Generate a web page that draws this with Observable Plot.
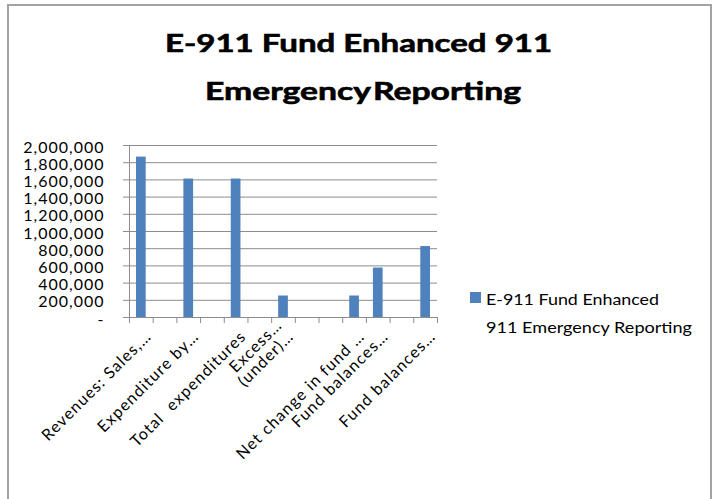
<!DOCTYPE html>
<html><head><meta charset="utf-8">
<script src="https://cdn.jsdelivr.net/npm/d3@7"></script>
<script src="https://cdn.jsdelivr.net/npm/@observablehq/plot@0.6"></script>
<style>
body{margin:0;background:#fff;}
#wrap{position:relative;width:716px;height:499px;overflow:hidden;font-family:Lato,"Liberation Sans",Arial,sans-serif;color:#000;background:#fff;}
#frame{position:absolute;left:7px;top:4px;width:705px;height:540px;border:2px solid #a3a3a3;box-sizing:border-box;}
.t{position:absolute;font-weight:bold;font-size:25px;line-height:25px;white-space:pre;transform-origin:0 50%;-webkit-text-stroke:0.6px #000;}
.lg{position:absolute;left:486px;font-size:16px;line-height:16px;white-space:pre;transform-origin:0 50%;}
#sw{position:absolute;left:470px;top:292px;width:11px;height:11px;background:#4F81BD;}
#chart{position:absolute;left:0;top:0;}
#chart svg text{letter-spacing:1.2px;white-space:pre;}
#chart g[aria-label="y-axis tick label"] text{letter-spacing:1px;}
</style>
</head><body>
<div id="wrap">
  <div id="chart"></div>
  <div id="frame"></div>
  <div class="t" id="t1" style="left:165px;top:30px;" data-w="387"></div>
  <div class="t" id="t2" style="left:205px;top:77.6px;word-spacing:-4px;" data-w="316"></div>
  <div id="sw"></div>
  <div class="lg" id="l1" style="top:291.3px;" data-w="173"></div>
  <div class="lg" id="l2" style="top:319.3px;" data-w="206"></div>
</div>
<script>
const titleLines = ["E-911 Fund Enhanced 911", "Emergency Reporting"];
const legendLines = ["E-911 Fund Enhanced", "911 Emergency Reporting"];
const categories = ["Revenues: Sales,…", "", "Expenditure by…", "", "Total  expenditures", "", "Excess…\n(under)…", "", "", "Net change in fund …", "Fund balances…", "", "Fund balances…"];
const values = [1865000, null, 1610000, null, 1610000, null, 250000, null, null, 250000, 575000, null, 825000];
const yTicks = [0, 200000, 400000, 600000, 800000, 1000000, 1200000, 1400000, 1600000, 1800000, 2000000];

document.getElementById("t1").textContent = titleLines[0];
document.getElementById("t2").textContent = titleLines[1];
document.getElementById("l1").textContent = legendLines[0];
document.getElementById("l2").textContent = legendLines[1];

const rows = categories.map((label, i) => ({i, label, value: values[i]}));
const grid = "#8c8c8c";
const chart = Plot.plot({
  width: 716, height: 499,
  marginLeft: 129, marginRight: 279, marginTop: 145, marginBottom: 182,
  style: {fontFamily: "Lato, Liberation Sans, Arial, sans-serif", fontSize: "16px", color: "#000", background: "transparent", overflow: "visible"},
  x: {domain: [0, categories.length]},
  y: {domain: [0, 2000000]},
  marks: [
    Plot.ruleY(yTicks, {stroke: grid, insetLeft: -6}),
    Plot.ruleX([0], {stroke: grid}),
    Plot.axisX({ticks: d3.range(0, categories.length + 1), tickSize: 6, tickFormat: () => "", stroke: grid, label: null}),
    Plot.axisY({ticks: yTicks, tickSize: 0, tickPadding: 25, tickFormat: d => d === 0 ? "-" : d3.format(",")(d), fontSize: 16, dy: 2, label: null}),
    Plot.rectY(rows.filter(d => d.value != null), {x1: "i", x2: d => d.i + 1, y: "value", fill: "#4F81BD", insetLeft: 7, insetRight: 7}),
    Plot.text(rows, {x: d => d.i + 0.5, text: "label", frameAnchor: "bottom", rotate: -45, textAnchor: "end", dx: 11, dy: 20, lineHeight: 1, fontSize: 16, fill: "#000"})
  ]
});
document.getElementById("chart").appendChild(chart);

function fit() {
  for (const el of document.querySelectorAll("[data-w]")) {
    el.style.transform = "none";
    const w = el.getBoundingClientRect().width;
    el.style.transform = `scaleX(${(+el.dataset.w / w).toFixed(3)})`;
  }
}
fit();
if (document.fonts && document.fonts.ready) document.fonts.ready.then(fit);
</script>
</body></html>
